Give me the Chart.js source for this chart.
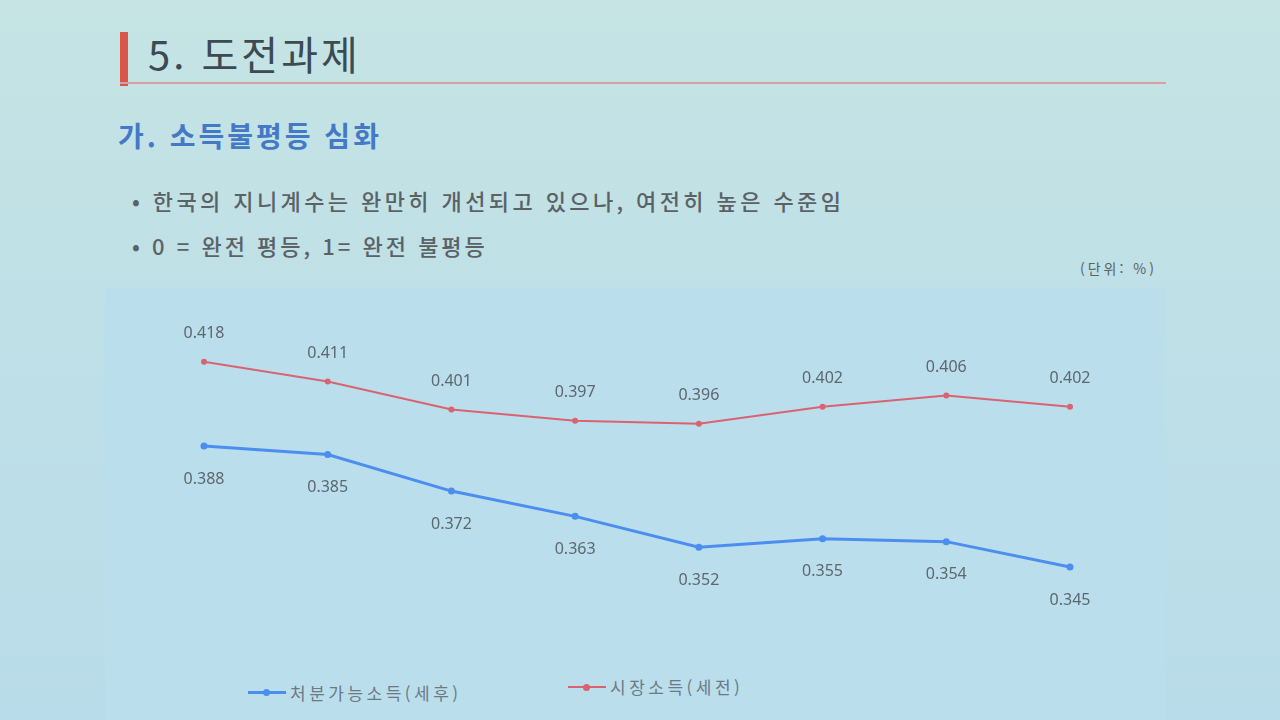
<!DOCTYPE html>
<html lang="ko">
<head>
<meta charset="utf-8">
<title>소득불평등 심화</title>
<script src="https://cdn.jsdelivr.net/npm/chart.js@4"></script>
<style>
    html, body {
        margin: 0;
        padding: 0;
    }
    body {
        width: 1280px;
        height: 720px;
        overflow: hidden;
        position: relative;
        background: linear-gradient(180deg, #c6e4e4 0%, #bfe0e6 40%, #b9dcea 100%);
        font-family: "Noto Sans CJK KR", "Noto Sans", sans-serif;
    }
    .title-bar {
        position: absolute;
        left: 120px;
        top: 32px;
        width: 8px;
        height: 54px;
        background: #d8574a;
    }
    .title {
        position: absolute;
        left: 148px;
        top: 24px;
        font-size: 40px;
        color: #3c4a54;
        letter-spacing: 3px;
    }
    .title-line {
        position: absolute;
        left: 120px;
        top: 82px;
        width: 1046px;
        height: 2px;
        background: #d9a0a4;
    }
    .subtitle {
        position: absolute;
        left: 118px;
        top: 115px;
        font-size: 28px;
        font-weight: bold;
        color: #4479c6;
        letter-spacing: 3px;
    }
    .bullet {
        position: absolute;
        left: 132px;
        font-size: 22px;
        font-weight: 500;
        color: #5a6266;
        letter-spacing: 3.4px;
    }
    .unit {
        position: absolute;
        left: 1080px;
        top: 258px;
        font-size: 14px;
        color: #5a6266;
        letter-spacing: 3px;
    }
    .panel {
        position: absolute;
        left: 105px;
        top: 288px;
        width: 1060px;
        height: 432px;
        background: #bbdeec;
    }
    .chart-box {
        position: absolute;
        left: 105px;
        top: 288px;
        width: 1060px;
        height: 380px;
    }
    .legend-item {
        position: absolute;
        font-size: 17px;
        color: #6b7a84;
        letter-spacing: 3.5px;
        display: flex;
        align-items: center;
    }
    .legend-mark {
        position: relative;
        width: 38px;
        height: 3px;
        margin-right: 4px;
    }
    .legend-mark::after {
        content: '';
        position: absolute;
        left: 15px;
        top: -2px;
        width: 7px;
        height: 7px;
        border-radius: 50%;
        background: inherit;
    }
</style>
</head>
<body>
<div class="title-bar"></div>
<div class="title">5. 도전과제</div>
<div class="title-line"></div>
<div class="subtitle">가. 소득불평등 심화</div>
<div class="bullet" style="top: 184px;">•&nbsp;한국의 지니계수는 완만히 개선되고 있으나, 여전히 높은 수준임</div>
<div class="bullet" style="top: 229px; letter-spacing: 3px;">•&nbsp;0 = 완전 평등, 1= 완전 불평등</div>
<div class="unit">(단위: %)</div>
<div class="panel"></div>
<div class="chart-box"><canvas id="giniChart"></canvas></div>
<div class="legend-item" style="left: 248px; top: 680px;">
    <span class="legend-mark" style="background: #4c8ef0;"></span>처분가능소득(세후)
</div>
<div class="legend-item" style="left: 568px; top: 674px;">
    <span class="legend-mark" style="background: #d9646f; height: 2px;"></span>시장소득(세전)
</div>

<script>
// Data
const years = ['2011', '2012', '2013', '2014', '2015', '2016', '2017', '2018'];
const disposableGini = [0.388, 0.385, 0.372, 0.363, 0.352, 0.355, 0.354, 0.345];
const marketGini = [0.418, 0.411, 0.401, 0.397, 0.396, 0.402, 0.406, 0.402];

const BLUE = '#4c8ef0';
const RED = '#d9646f';

// Draws the value above (market) or below (disposable) each point
const valueLabels = {
    id: 'valueLabels',
    afterDatasetsDraw(chart) {
        const ctx = chart.ctx;
        ctx.save();
        ctx.font = '16px "Noto Sans", "Open Sans", sans-serif';
        ctx.fillStyle = '#5d6770';
        ctx.textAlign = 'center';
        ctx.textBaseline = 'middle';
        chart.data.datasets.forEach((ds, i) => {
            const meta = chart.getDatasetMeta(i);
            const offset = ds.labelPos === 'above' ? -28 : 33;
            meta.data.forEach((pt, j) => {
                ctx.fillText(ds.data[j].toFixed(3), pt.x, pt.y + offset);
            });
        });
        ctx.restore();
    }
};

new Chart(document.getElementById('giniChart'), {
    type: 'line',
    data: {
        labels: years,
        datasets: [
            {
                label: '처분가능소득(세후)',
                data: disposableGini,
                borderColor: BLUE,
                backgroundColor: BLUE,
                borderWidth: 3,
                pointRadius: 3.5,
                pointBorderWidth: 0,
                tension: 0,
                labelPos: 'below'
            },
            {
                label: '시장소득(세전)',
                data: marketGini,
                borderColor: RED,
                backgroundColor: RED,
                borderWidth: 2,
                pointRadius: 3,
                pointBorderWidth: 0,
                tension: 0,
                labelPos: 'above'
            }
        ]
    },
    options: {
        responsive: true,
        maintainAspectRatio: false,
        animation: false,
        layout: {
            padding: { left: 99, right: 95, top: 12, bottom: 28 }
        },
        scales: {
            x: { display: false, offset: false },
            y: { display: false, min: 0.319, max: 0.44 }
        },
        plugins: {
            legend: { display: false },
            tooltip: { enabled: false }
        }
    },
    plugins: [valueLabels]
});
</script>
</body>
</html>
